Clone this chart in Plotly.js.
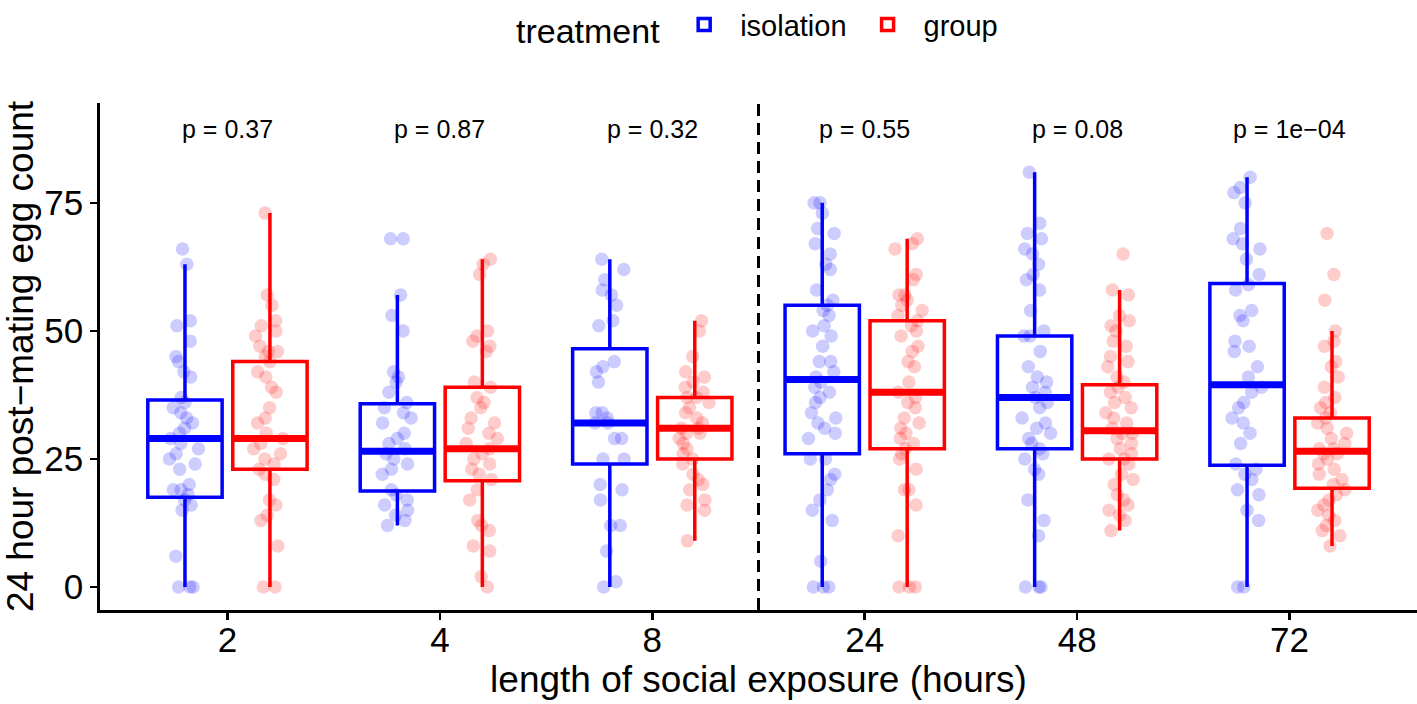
<!DOCTYPE html>
<html><head><meta charset="utf-8">
<script src="https://cdn.plot.ly/plotly-3.0.1.min.js"></script>
<style>html,body{margin:0;padding:0;background:#fff}#chart{width:1417px;height:704px}</style>
</head><body><div id="chart"></div>
<script>
// categories
const hours = ['2', '4', '8', '24', '48', '72'];
const pLabels = ['p = 0.37', 'p = 0.87', 'p = 0.32', 'p = 0.55', 'p = 0.08', 'p = 1e\u221204'];

// box statistics: isolation
const isoQ1   = [17.5, 18.75, 24, 26, 27, 23.75];
const isoMed  = [29, 26.5, 32, 40.5, 37, 39.5];
const isoQ3   = [36.5, 35.75, 46.5, 55, 49, 59.25];
const isoLow  = [0, 12, 0, 0, 0, 0];
const isoHigh = [63, 57, 64, 75, 81, 80];

// box statistics: group
const grpQ1   = [23, 20.75, 25, 27, 25, 19.25];
const grpMed  = [29, 27, 31, 38, 30.5, 26.5];
const grpQ3   = [44, 39, 37, 52, 39.5, 33];
const grpLow  = [0, 0, 9, 0, 11, 8];
const grpHigh = [73, 64, 52, 68, 58, 50];

// individual egg counts: isolation
const iso2  = [66, 63, 52, 51, 48, 45, 44, 42, 41, 37, 36, 35, 34, 33, 32, 31, 30, 29, 28, 27, 26, 25, 24, 23, 20, 19, 19, 18, 17, 16, 15, 6, 0, 0, 0];
const iso4  = [68, 68, 57, 53, 50, 42, 41, 40, 38, 36, 35, 34, 33, 32, 30, 29, 28, 27, 26, 25, 24, 23, 22, 19, 18, 17, 16, 15, 14, 13, 12];
const iso8  = [64, 62, 60, 58, 57, 55, 52, 51, 44, 43, 42, 40, 34, 34, 33, 32, 32, 29, 29, 25, 25, 20, 19, 17, 12, 12, 7, 1, 0];
const iso24 = [75, 75, 73, 70, 69, 67, 65, 63, 62, 58, 56, 55, 54, 53, 51, 50, 49, 47, 44, 44, 42, 41, 40, 39, 38, 37, 36, 34, 33, 32, 31, 30, 29, 25, 25, 22, 21, 19, 17, 15, 13, 5, 0, 0, 0];
const iso48 = [81, 71, 69, 68, 66, 65, 63, 61, 60, 58, 54, 50, 49, 49, 46, 43, 41, 40, 39, 38, 37, 36, 35, 33, 32, 31, 30, 29, 28, 27, 26, 25, 23, 22, 17, 13, 10, 0, 0, 0];
const iso72 = [80, 78, 77, 75, 70, 68, 67, 66, 64, 61, 59, 58, 54, 53, 52, 48, 47, 46, 43, 41, 39, 38, 36, 35, 33, 32, 30, 28, 24, 23, 22, 21, 19, 18, 15, 13, 0, 0];

// individual egg counts: group
const grp2  = [73, 57, 55, 52, 51, 50, 49, 47, 46, 46, 45, 44, 42, 41, 39, 38, 35, 33, 32, 30, 29, 28, 27, 26, 25, 24, 23, 22, 21, 17, 16, 14, 13, 8, 0, 0];
const grp4  = [64, 63, 61, 50, 49, 48, 47, 46, 40, 39, 37, 36, 35, 33, 32, 31, 30, 29, 28, 27, 26, 25, 24, 23, 22, 21, 19, 17, 13, 12, 11, 8, 7, 2, 0];
const grp8  = [52, 50, 45, 42, 41, 40, 39, 38, 37, 37, 36, 35, 34, 33, 32, 31, 31, 30, 30, 29, 28, 27, 26, 25, 24, 22, 21, 20, 19, 17, 16, 15, 9];
const grp24 = [68, 67, 66, 61, 60, 57, 57, 56, 55, 54, 53, 52, 51, 50, 49, 47, 46, 44, 43, 40, 38, 37, 36, 35, 33, 32, 31, 30, 29, 28, 27, 26, 25, 23, 19, 19, 16, 10, 0, 0, 0];
const grp48 = [65, 58, 57, 53, 52, 51, 50, 48, 47, 45, 44, 43, 41, 40, 39, 38, 37, 36, 35, 34, 33, 32, 31, 30, 30, 29, 28, 27, 26, 25, 25, 24, 22, 21, 20, 18, 17, 16, 15, 14, 13, 11];
const grp72 = [69, 61, 56, 50, 48, 47, 44, 43, 41, 39, 37, 36, 35, 34, 33, 32, 31, 30, 29, 28, 27, 27, 26, 26, 25, 24, 23, 22, 21, 20, 19, 18, 17, 16, 15, 14, 13, 12, 11, 10, 8];

const isoPts = [iso2, iso4, iso8, iso24, iso48, iso72];
const grpPts = [grp2, grp4, grp8, grp24, grp48, grp72];

const FONT = 'Liberation Sans, Arial, Helvetica, sans-serif';
const BLUE = '#0000FF', RED = '#FF0000';

function boxTrace(name, color, q1, med, q3, lo, hi, pts, og) {
  return {
    type: 'box', name: name, x: hours, offsetgroup: og,
    q1: q1, median: med, q3: q3, lowerfence: lo, upperfence: hi,
    y: pts, boxpoints: 'all', jitter: 0.45, pointpos: 0,
    whiskerwidth: 0, fillcolor: 'rgba(0,0,0,0)',
    line: {color: color, width: 3.5},
    marker: {color: color, opacity: 0.2, size: 13.5, line: {width: 0}},
    hoverinfo: 'skip'
  };
}
function medTrace(color, med, og) {
  return {
    type: 'box', x: hours, offsetgroup: og, showlegend: false,
    q1: med, median: med, q3: med, lowerfence: med, upperfence: med,
    boxpoints: false, whiskerwidth: 0, fillcolor: 'rgba(0,0,0,0)',
    line: {color: color, width: 7}, hoverinfo: 'skip'
  };
}

const data = [
  boxTrace('isolation', BLUE, isoQ1, isoMed, isoQ3, isoLow, isoHigh, isoPts, 'iso'),
  boxTrace('group', RED, grpQ1, grpMed, grpQ3, grpLow, grpHigh, grpPts, 'grp'),
  medTrace(BLUE, isoMed, 'iso'),
  medTrace(RED, grpMed, 'grp')
];

const sepX = (hours.indexOf('8') + hours.indexOf('24')) / 2;

const layout = {
  width: 1417, height: 704,
  margin: {l: 100, r: 0, t: 103, b: 94},
  paper_bgcolor: '#fff', plot_bgcolor: '#fff',
  font: {family: FONT, color: '#000'},
  boxmode: 'group', boxgap: 0.2, boxgroupgap: 0.125,
  showlegend: true,
  legend: {
    orientation: 'h', x: 0.5, xanchor: 'center',
    yref: 'container', y: 0.962, yanchor: 'middle',
    title: {text: 'treatment', side: 'left', font: {size: 34, family: FONT, color: '#000'}},
    font: {size: 29, family: FONT, color: '#000'}, itemwidth: 62
  },
  xaxis: {
    type: 'category', range: [-0.6, 5.6],
    showline: true, linecolor: '#000', linewidth: 2.7,
    ticks: 'outside', ticklen: 7, tickwidth: 2.7, tickcolor: '#000',
    ticklabelstandoff: -10,
    tickfont: {size: 35, family: FONT, color: '#000'},
    showgrid: false, zeroline: false,
    title: {text: 'length of social exposure (hours)', font: {size: 37, family: FONT, color: '#000'}, standoff: 6}
  },
  yaxis: {
    range: [-4.5, 94.5],
    tickvals: [0, 25, 50, 75],
    showline: true, linecolor: '#000', linewidth: 2.7,
    ticks: 'outside', ticklen: 7, tickwidth: 2.7, tickcolor: '#000',
    tickfont: {size: 35, family: FONT, color: '#000'},
    showgrid: false, zeroline: false,
    title: {text: '24 hour post\u2212mating egg count', font: {size: 37, family: FONT, color: '#000'}, standoff: 2}
  },
  shapes: [{
    type: 'line', xref: 'x', yref: 'paper', x0: sepX, x1: sepX, y0: 0, y1: 1,
    line: {color: '#000', width: 3, dash: '12px,7px'}
  }],
  annotations: hours.map((h, i) => ({
    x: i, y: 89.5, xref: 'x', yref: 'y', text: pLabels[i], showarrow: false,
    font: {size: 25, family: FONT, color: '#000'}, xanchor: 'center', yanchor: 'middle'
  }))
};

Plotly.newPlot('chart', data, layout, {displayModeBar: false, staticPlot: true});
</script>
</body></html>
